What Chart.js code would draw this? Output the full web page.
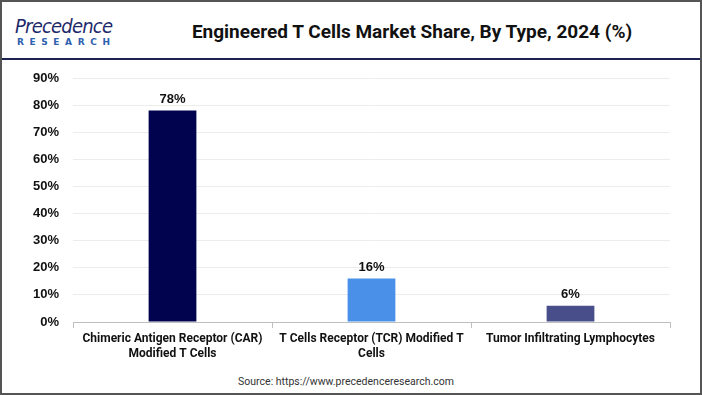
<!DOCTYPE html>
<html><head><meta charset="utf-8">
<script src="https://cdn.jsdelivr.net/npm/chart.js@4"></script>
<style>
html,body{margin:0;padding:0;background:#fff;}
#wrap{position:relative;width:702px;height:395px;box-sizing:border-box;border:2px solid #555;overflow:hidden;font-family:"Liberation Sans",Arial,sans-serif;}
#hdr{position:absolute;left:0;top:0;width:698px;height:56px;border-bottom:2px solid #1e2250;}
#logo1{position:absolute;left:13px;top:12px;font:italic 500 20px "DejaVu Sans Condensed","DejaVu Sans",sans-serif;color:#1c2a6b;letter-spacing:-0.8px;}
#logo2{position:absolute;left:15px;top:35px;font:bold 9px "DejaVu Sans",sans-serif;color:#2e5fb0;letter-spacing:5.6px;}
#title{position:absolute;left:150px;width:520px;top:18px;text-align:center;font:bold 19px Roboto,Arial,sans-serif;color:#111;letter-spacing:0px;}
#src{position:absolute;left:0;width:688px;top:373px;text-align:center;font:10.5px Roboto,Arial,sans-serif;color:#333;}
canvas{position:absolute;left:0;top:58px;}
</style></head>
<body><div id="wrap">
<div id="hdr"><div id="logo1">Precedence</div><div id="logo2">RESEARCH</div>
<div id="title">Engineered T Cells Market Share, By Type, 2024 (%)</div></div>
<canvas id="c" width="698" height="312"></canvas>
<div id="src">Source: https://www.precedenceresearch.com</div>
</div>
<script>
const categories = [["Chimeric Antigen Receptor (CAR)","Modified T Cells"],["T Cells Receptor (TCR) Modified T","Cells"],["Tumor Infiltrating Lymphocytes"]];
const shareValues = [78, 16, 6];
const barColors = ["#02034f", "#4a90e8", "#474e8a"];
const yTicks = [0,10,20,30,40,50,60,70,80,90];

const labelPlugin = {
  id:'vlabels',
  afterDatasetsDraw(chart){
    const ctx = chart.ctx;
    const meta = chart.getDatasetMeta(0);
    ctx.save();
    ctx.font = 'bold 13px "Liberation Sans", Arial, sans-serif';
    ctx.fillStyle = '#111';
    ctx.textAlign = 'center';
    ctx.textBaseline = 'bottom';
    meta.data.forEach((b,i)=>{
      ctx.fillText(shareValues[i]+'%', b.x, b.y - 5);
    });
    ctx.restore();
  }
};

new Chart(document.getElementById('c'), {
  type:'bar',
  data:{labels:categories, datasets:[{data:shareValues, backgroundColor:barColors, categoryPercentage:1, barPercentage:0.24}]},
  options:{
    responsive:false, animation:false,
    layout:{padding:{left:0,right:30,top:18,bottom:0}},
    plugins:{legend:{display:false},tooltip:{enabled:false}},
    scales:{
      y:{min:0,max:90,
        afterBuildTicks(s){ s.ticks = yTicks.map(v=>({value:v})); },
        afterFit(s){ s.width = 71; s.paddingTop = 0; s.paddingBottom = 0; },
        grid:{color:'#ececec',drawTicks:false},
        border:{display:false},
        ticks:{padding:14,color:'#111',font:{family:'"Liberation Sans", Arial, sans-serif',weight:'bold',size:13},callback:v=>v+'%'}
      },
      x:{
        afterFit(s){ s.height = 50; s.paddingLeft = 0; s.paddingRight = 0; },
        grid:{offset:true,drawOnChartArea:false,color:'#bfbfbf',tickLength:6},
        border:{display:true,color:'#bfbfbf'},
        ticks:{padding:3,maxRotation:0,autoSkip:false,color:'#111',font:{family:'Roboto, Arial, sans-serif',weight:'bold',size:12,lineHeight:1.3}}
      }
    }
  },
  plugins:[labelPlugin]
});
</script>
</body></html>
